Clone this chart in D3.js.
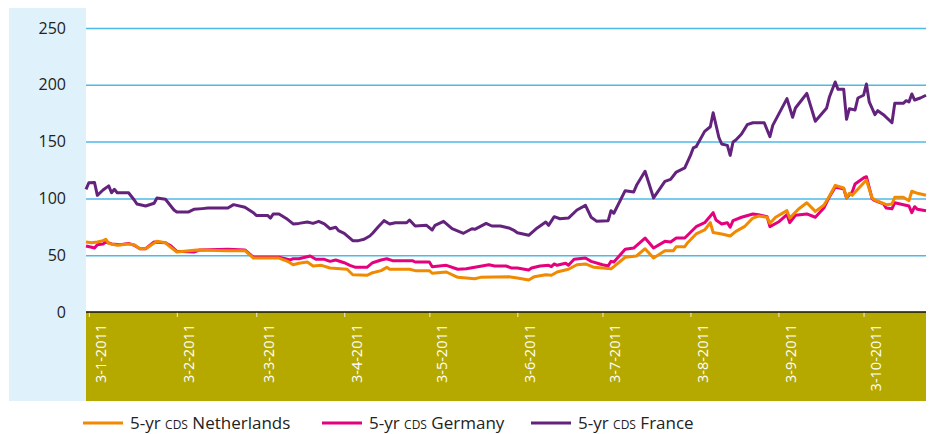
<!DOCTYPE html>
<html>
<head>
<meta charset="utf-8">
<script src="https://cdn.jsdelivr.net/npm/d3@7"></script>
<style>
  body { margin: 0; background: #fff; }
  svg text { font-family: 'Open Sans', sans-serif; }
</style>
</head>
<body>
<div id="chart"></div>
<script>
// values (basis points)
const yTicks = [0, 50, 100, 150, 200, 250]
const monthTicks = ['2011-01-03', '2011-02-03', '2011-03-03', '2011-04-03', '2011-05-03',
  '2011-06-03', '2011-07-03', '2011-08-03', '2011-09-03', '2011-10-03']
const seriesNames = ['5-yr cds Netherlands', '5-yr cds Germany', '5-yr cds France']

const frDates = ['01-02', '01-03', '01-05', '01-06', '01-08', '01-10', '01-11', '01-12', '01-13', '01-17',
  '01-19', '01-20', '01-23', '01-26', '01-27', '01-30', '02-02', '02-03', '02-07', '02-09',
  '02-12', '02-14', '02-21', '02-23', '02-27', '03-02', '03-03', '03-07', '03-08', '03-09',
  '03-11', '03-14', '03-16', '03-18', '03-21', '03-23', '03-25', '03-27', '03-29', '03-31',
  '04-01', '04-03', '04-06', '04-08', '04-10', '04-12', '04-13', '04-15', '04-17', '04-19',
  '04-21', '04-25', '04-26', '04-28', '05-02', '05-04', '05-05', '05-08', '05-11', '05-15',
  '05-18', '05-19', '05-23', '05-25', '05-28', '05-31', '06-02', '06-03', '06-07', '06-10',
  '06-13', '06-14', '06-16', '06-18', '06-21', '06-24', '06-27', '06-29', '07-01', '07-05',
  '07-06', '07-07', '07-11', '07-14', '07-15', '07-18', '07-21', '07-25', '07-27', '07-29',
  '08-01', '08-03', '08-04', '08-05', '08-08', '08-10', '08-11', '08-13', '08-14', '08-16',
  '08-17', '08-18', '08-19', '08-21', '08-23', '08-25', '08-29', '08-31', '09-01', '09-06',
  '09-08', '09-09', '09-11', '09-13', '09-16', '09-20', '09-21', '09-23', '09-24', '09-26',
  '09-27', '09-28', '09-30', '10-01', '10-03', '10-04', '10-05', '10-07', '10-08', '10-10',
  '10-13', '10-14', '10-17', '10-18', '10-19', '10-20', '10-21', '10-23', '10-25']
const frValues = [108, 113.8, 114, 102.7, 107.4, 111, 105, 108, 105, 105,
  98.6, 95, 93.3, 95.7, 100.4, 99.2, 89.8, 88, 88, 90.4,
  91, 91.5, 91.5, 94.5, 92.2, 87.4, 85, 85, 82.7, 86.3,
  86.3, 81.6, 77.5, 78, 79.2, 78, 79.8, 77.5, 73.3, 74.6,
  71.6, 69.3, 62.8, 62.8, 64, 66.9, 69.3, 75.1, 80.4, 77.5,
  78.6, 78.6, 81, 75.7, 76.3, 72.2, 76.3, 79.8, 73.3, 69.3,
  73.3, 72.8, 78, 75.7, 75.7, 74, 71.6, 69.8, 67.5, 74,
  79.2, 76.3, 83.9, 82.1, 82.7, 89.8, 93.9, 83.4, 79.8, 80.4,
  89.2, 86.9, 106.8, 105.6, 111.5, 123.9, 100.4, 115, 116.8, 123.2,
  126.8, 137.9, 144.4, 145.5, 159, 163.1, 175.4, 153.8, 147.9, 146.7,
  137.9, 149.6, 151.4, 156.7, 164.9, 166.6, 166.6, 154.3, 164.3, 187.8,
  171.4, 179.6, 186, 192.5, 167.9, 179.6, 189.5, 202.5, 196, 196,
  169.6, 179, 177.8, 188.4, 190.8, 200.7, 184.9, 173.7, 177.2, 173.7,
  166.6, 183.7, 183.7, 186, 184.9, 191.9, 186.6, 188.4, 190.8]

const deDates = ['01-02', '01-04', '01-05', '01-06', '01-08', '01-09', '01-11', '01-14', '01-17', '01-19',
  '01-21', '01-23', '01-26', '01-30', '02-01', '02-03', '02-09', '02-11', '02-21', '02-27',
  '03-02', '03-11', '03-15', '03-16', '03-18', '03-22', '03-24', '03-27', '03-29', '03-31',
  '04-03', '04-05', '04-07', '04-11', '04-13', '04-16', '04-18', '04-20', '04-27', '04-28',
  '05-03', '05-04', '05-09', '05-13', '05-16', '05-20', '05-24', '05-26', '05-30', '06-01',
  '06-03', '06-07', '06-08', '06-11', '06-14', '06-15', '06-16', '06-17', '06-20', '06-21',
  '06-23', '06-27', '06-29', '07-03', '07-05', '07-06', '07-07', '07-11', '07-14', '07-18',
  '07-21', '07-25', '07-27', '07-29', '08-01', '08-05', '08-08', '08-11', '08-12', '08-14',
  '08-16', '08-17', '08-18', '08-21', '08-25', '08-27', '08-30', '08-31', '09-03', '09-06',
  '09-07', '09-09', '09-13', '09-16', '09-19', '09-21', '09-23', '09-26', '09-27', '09-29',
  '09-30', '10-03', '10-04', '10-06', '10-07', '10-10', '10-11', '10-13', '10-14', '10-19',
  '10-20', '10-21', '10-22', '10-25']
const deValues = [58.1, 57, 56.3, 59.2, 59.9, 61.6, 59.9, 59.2, 60.4, 58.7,
  55.7, 55.7, 61.6, 61, 58.1, 53.4, 52.8, 54.6, 55.2, 54.6,
  48.2, 48.2, 45.8, 46.9, 46.9, 49.3, 46.4, 46.4, 44.6, 45.8,
  43.4, 41.1, 39.3, 39.3, 43.4, 45.8, 46.9, 45.2, 45.2, 44,
  44, 39.9, 41.1, 37.6, 38.1, 39.9, 41.6, 40.5, 40.5, 38.7,
  38.7, 37, 38.7, 40.5, 41.1, 39.9, 42.3, 41.1, 42.9, 41.1,
  46.4, 47.5, 44.6, 41.6, 40.5, 44.6, 44, 55.2, 56.3, 65.1,
  56.3, 62.2, 61.6, 65.1, 65.1, 75.1, 78.6, 87.4, 81, 77.5,
  78.6, 74.6, 80.4, 83.4, 86.3, 85.7, 83.9, 75.1, 79.2, 85.7,
  78.6, 85.1, 86.3, 83.4, 91.5, 101.5, 109.8, 108.5, 100.4, 105.6,
  112.7, 118, 119.1, 99.7, 98, 95.1, 91.5, 90.9, 96.2, 93.3,
  87.4, 92.7, 90.4, 89.2]

const nlDates = ['01-02', '01-04', '01-06', '01-08', '01-09', '01-10', '01-13', '01-17', '01-19', '01-21',
  '01-23', '01-27', '01-30', '01-31', '02-03', '02-10', '02-21', '02-27', '03-02', '03-11',
  '03-14', '03-16', '03-18', '03-21', '03-23', '03-26', '03-29', '04-04', '04-06', '04-11',
  '04-13', '04-16', '04-18', '04-19', '04-26', '04-28', '05-03', '05-04', '05-09', '05-13',
  '05-19', '05-21', '05-31', '06-03', '06-07', '06-09', '06-13', '06-15', '06-17', '06-21',
  '06-24', '06-27', '06-30', '07-06', '07-07', '07-11', '07-15', '07-18', '07-21', '07-25',
  '07-28', '07-29', '08-01', '08-02', '08-05', '08-08', '08-10', '08-11', '08-14', '08-17',
  '08-19', '08-22', '08-25', '08-27', '08-30', '08-31', '09-02', '09-06', '09-07', '09-10',
  '09-13', '09-16', '09-19', '09-21', '09-23', '09-26', '09-27', '09-28', '09-29', '10-04',
  '10-06', '10-07', '10-11', '10-13', '10-14', '10-17', '10-19', '10-20', '10-22', '10-25']
const nlValues = [61.6, 61, 61.6, 62.8, 64, 60.4, 58.7, 59.9, 59.2, 55.7,
  55.7, 62.2, 61, 58.7, 52.8, 54.6, 54, 54, 47.5, 47.5,
  44.6, 41.6, 42.9, 44, 40.5, 41.1, 38.7, 37.6, 32.8, 32.3,
  34.6, 36.4, 39.3, 37.6, 37.6, 36.4, 36.4, 34.1, 35.2, 30.5,
  29.3, 30.5, 31.1, 29.9, 28.2, 31.1, 32.8, 32.3, 35.2, 37.6,
  41.6, 42.3, 39.3, 38.1, 39.9, 48.2, 49.3, 55.7, 47.5, 54,
  54, 57.5, 57.5, 61, 68.7, 72.2, 78.6, 70, 68.7, 66.9,
  71, 75.1, 82.7, 84.5, 83.4, 78.1, 83.4, 89.2, 82.7, 90.4,
  96.2, 88.6, 93.9, 102.1, 111.5, 109.2, 100.4, 104.5, 102.7, 116.2,
  100.4, 98.6, 94.5, 95.1, 101, 101, 98, 106.3, 104.5, 102.7]

const colors = ['#f18a00', '#e5007d', '#63237d']

const width = 933
const height = 434
const parseDay = d3.timeParse('%Y-%m-%d')

const svg = d3
  .select('#chart')
  .append('svg')
  .attr('width', width)
  .attr('height', height)

// Build your scales here
const xPositionScale = d3
  .scaleTime()
  .domain([parseDay('2011-01-02'), parseDay('2011-10-25')])
  .range([86, 926])

const yPositionScale = d3
  .scaleLinear()
  .domain([0, 250])
  .range([312, 28])

// light blue panel behind the y labels, olive band under the plot
svg.append('rect')
  .attr('x', 9).attr('y', 8)
  .attr('width', 77).attr('height', 393)
  .attr('fill', '#dff1fb')

svg.append('rect')
  .attr('x', 86).attr('y', yPositionScale(0))
  .attr('width', 840).attr('height', 89)
  .attr('fill', '#b5a900')

// y axis: gridlines + labels
const y_axis = d3.axisLeft(yPositionScale)
  .tickValues(yTicks)
  .tickSize(-840)
  .tickPadding(20)

svg.append('g')
  .attr('class', 'axis y-axis')
  .attr('transform', 'translate(86,0)')
  .call(y_axis)
svg.select('.y-axis path').remove()
svg.selectAll('.y-axis line')
  .attr('stroke', d => (d === 0 ? 'none' : '#4cb9e6'))
  .attr('stroke-width', 1.5)
svg.selectAll('.y-axis text')
  .attr('font-size', 16)
  .attr('fill', '#222')
  .attr('font-family', "'Open Sans', sans-serif")

// x axis inside the olive band
const tickDates = monthTicks.map(parseDay)
const x_axis = d3.axisBottom(xPositionScale)
  .tickValues(tickDates)
  .tickSize(5)
  .tickFormat(d3.timeFormat('%-d-%-m-%Y'))

const xg = svg.append('g')
  .attr('class', 'axis x-axis')
  .attr('transform', 'translate(0,' + yPositionScale(0) + ')')
  .call(x_axis)
xg.select('path').remove()
xg.selectAll('line').attr('stroke', '#f4f0c8').attr('stroke-width', 1)
xg.selectAll('text')
  .attr('font-size', 14.5)
  .attr('fill', '#fff')
  .attr('font-family', "'Open Sans', sans-serif")
  .attr('text-anchor', 'end')
  .attr('dy', '0.35em')
  .attr('transform', 'translate(12,0) rotate(-90)')
  .attr('x', -12)
  .attr('y', 0)

svg.append('line')
  .attr('x1', 86).attr('x2', 926)
  .attr('y1', yPositionScale(0)).attr('y2', yPositionScale(0))
  .attr('stroke', '#111')
  .attr('stroke-width', 1.5)

function toPoints(dates, values) {
  return dates.map((d, i) => ({ date: parseDay('2011-' + d), value: values[i] }))
}

const series = [
  toPoints(nlDates, nlValues),
  toPoints(deDates, deValues),
  toPoints(frDates, frValues)
]

const line = d3.line()
  .x(d => xPositionScale(d.date))
  .y(d => yPositionScale(d.value))

// France first, Netherlands on top
;[2, 1, 0].forEach(i => {
  svg.append('path')
    .datum(series[i])
    .attr('d', line)
    .attr('fill', 'none')
    .attr('stroke', colors[i])
    .attr('stroke-width', 3)
    .attr('stroke-linejoin', 'round')
})

// legend
const legendX = [83, 322, 531]
const legend = svg.selectAll('.legend')
  .data(seriesNames)
  .enter()
  .append('g')
  .attr('class', 'legend')
  .attr('transform', (d, i) => 'translate(' + legendX[i] + ',423)')

legend.append('line')
  .attr('x1', 0).attr('x2', 40)
  .attr('stroke', (d, i) => colors[i])
  .attr('stroke-width', 3)

legend.append('text')
  .attr('x', 47)
  .attr('dy', '0.33em')
  .attr('font-size', 17)
  .attr('fill', '#222')
  .each(function(d) {
    const parts = d.split('cds')
    const t = d3.select(this)
    t.append('tspan').text(parts[0])
    t.append('tspan').style('font-variant', 'small-caps').text('cds')
    t.append('tspan').text(parts[1])
  })
</script>
</body>
</html>
